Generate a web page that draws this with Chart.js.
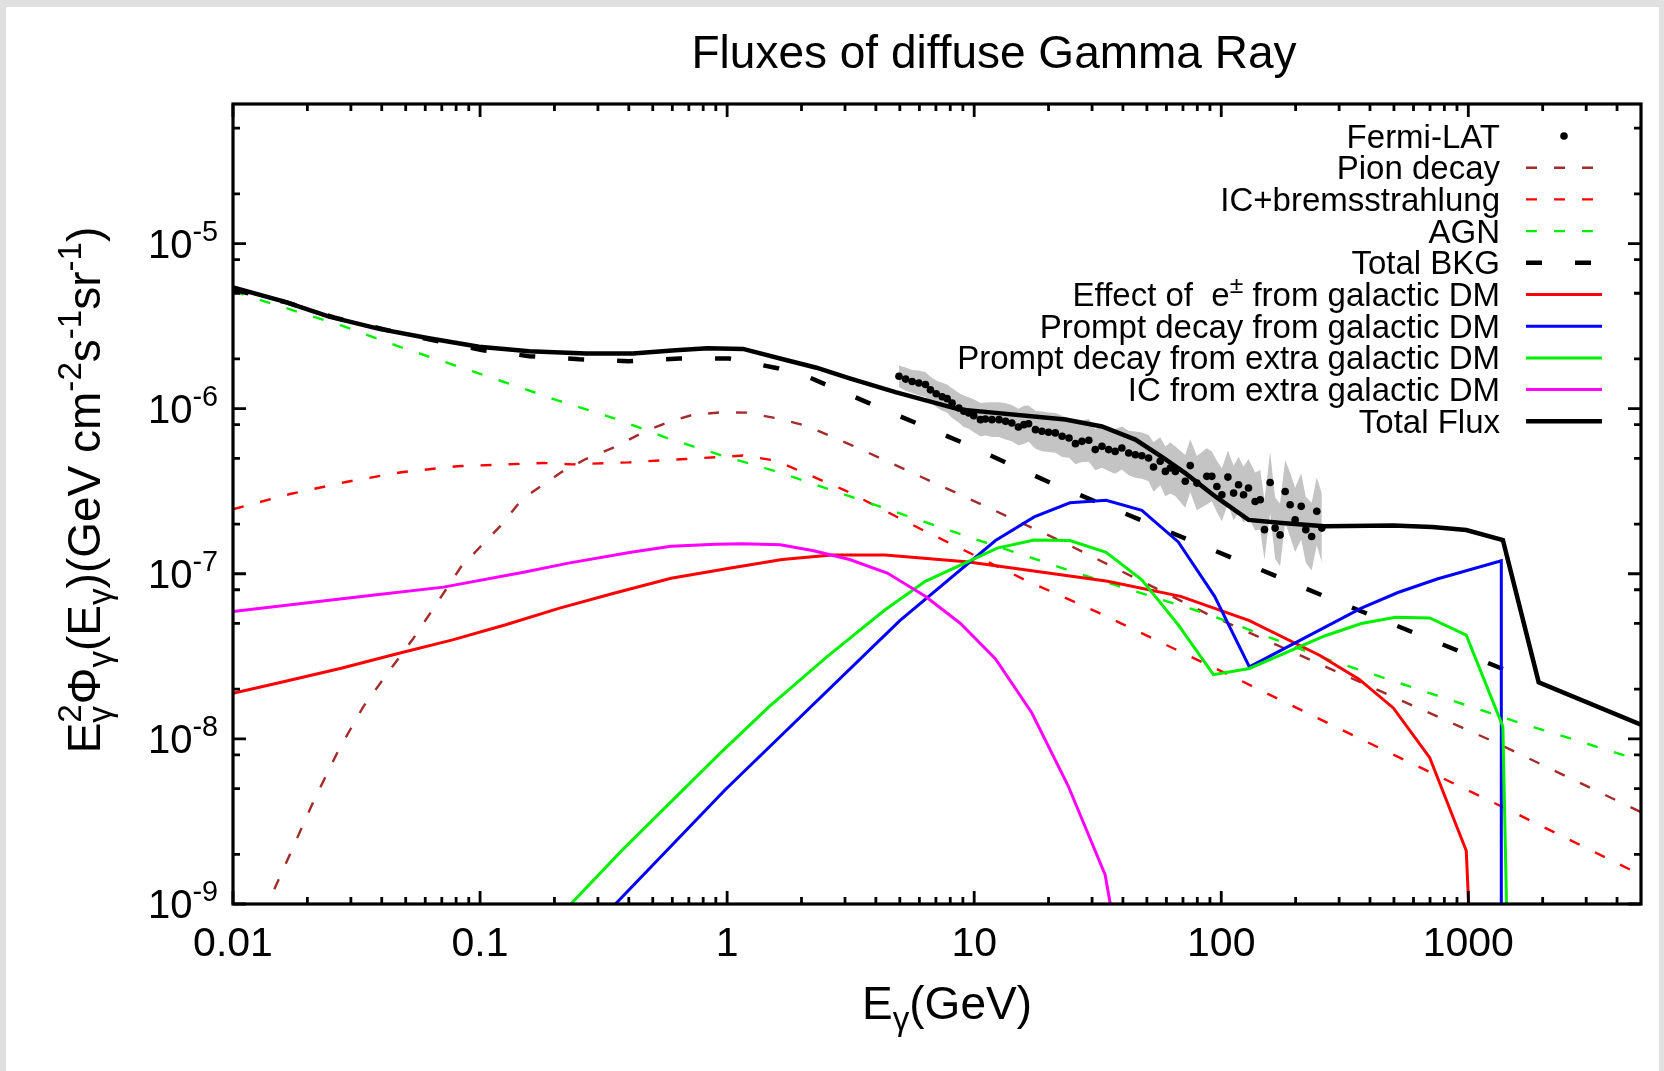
<!DOCTYPE html>
<html>
<head>
<meta charset="utf-8">
<style>
  html, body { margin: 0; padding: 0; background: #ffffff; }
  canvas { display: block; }
</style>
<script src="https://cdn.jsdelivr.net/npm/chart.js@4.4.1/dist/chart.umd.min.js"></script>
</head>
<body>
<canvas id="flux" width="1664" height="1071"></canvas>
<script>
// ---- Energies in GeV, fluxes E^2 Phi in GeV cm^-2 s^-1 sr^-1 ----

// Pion decay
const pionE = [0.0135, 0.01406, 0.0173, 0.0213, 0.0268, 0.0337, 0.0432, 0.0532, 0.0683, 0.084, 0.1035, 0.121, 0.148, 0.213, 0.269, 0.351, 0.458, 0.578, 0.730, 0.953, 1.20, 1.62, 2.08, 3.2, 8.5, 22.6, 88, 1291, 5000];
const pionF = [8.5e-10, 1.06e-9, 2.12e-9, 4.27e-9, 8.6e-9, 1.57e-8, 2.62e-8, 3.98e-8, 6.95e-8, 1.11e-7, 1.53e-7, 1.95e-7, 2.83e-7, 4.12e-7, 4.97e-7, 5.85e-7, 7.2e-7, 8.3e-7, 9.2e-7, 9.5e-7, 9.46e-7, 8.7e-7, 7.9e-7, 6.0e-7, 3.08e-7, 1.57e-7, 5.7e-8, 9.5e-9, 3.6e-9];

// IC + bremsstrahlung
const icbE = [0.01, 0.017, 0.029, 0.048, 0.081, 0.18, 0.236, 0.40, 0.68, 1.16, 1.57, 3.0, 6.1, 16, 32, 110, 361, 1413, 5000];
const icbF = [2.46e-7, 3.04e-7, 3.61e-7, 4.12e-7, 4.48e-7, 4.69e-7, 4.6e-7, 4.73e-7, 4.96e-7, 5.2e-7, 4.85e-7, 3.2e-7, 1.86e-7, 9.2e-8, 5.8e-8, 2.4e-8, 1.01e-8, 3.8e-9, 1.5e-9];

// AGN
const agnE = [0.01, 0.0276, 0.0462, 0.0748, 0.125, 0.207, 0.352, 0.578, 0.953, 1.62, 10, 24.6, 88, 275, 1618, 5000];
const agnF = [5.13e-6, 3.18e-6, 2.40e-6, 1.88e-6, 1.45e-6, 1.12e-6, 8.7e-7, 6.6e-7, 5.2e-7, 4.12e-7, 1.63e-7, 1.04e-7, 5.7e-8, 3.0e-8, 1.25e-8, 7.4e-9];

// Total background
const bkgE = [0.01, 0.0165, 0.0258, 0.0405, 0.0634, 0.1026, 0.158, 0.252, 0.40, 0.64, 1.02, 1.62, 2.08, 3.75, 8.8, 20.4, 75, 262, 1479];
const bkgF = [5.25e-6, 4.40e-6, 3.56e-6, 3.03e-6, 2.61e-6, 2.26e-6, 2.08e-6, 1.99e-6, 1.94e-6, 2.01e-6, 2.01e-6, 1.75e-6, 1.58e-6, 1.08e-6, 6.3e-7, 3.55e-7, 1.59e-7, 7.3e-8, 2.54e-8];

// Effect of e+- from galactic DM
const epmE = [0.01, 0.016, 0.0274, 0.047, 0.0774, 0.127, 0.210, 0.345, 0.593, 1.02, 1.67, 2.65, 4.36, 9.5, 34.7, 68.5, 130, 251, 361, 497, 698, 981, 1010];
const epmF = [1.89e-8, 2.22e-8, 2.68e-8, 3.30e-8, 3.98e-8, 4.91e-8, 6.19e-8, 7.6e-8, 9.4e-8, 1.08e-7, 1.22e-7, 1.30e-7, 1.30e-7, 1.18e-7, 9.0e-8, 7.3e-8, 5.2e-8, 3.2e-8, 2.3e-8, 1.54e-8, 7.7e-9, 2.1e-9, 8e-10];

// Prompt decay from galactic DM
const galE = [0.353, 0.98, 5.0, 12.2, 17.5, 24.4, 34.2, 47.7, 67, 94, 130, 369, 519, 748, 1360, 1360];
const galF = [1.0e-9, 4.9e-9, 5.2e-8, 1.59e-7, 2.21e-7, 2.69e-7, 2.79e-7, 2.42e-7, 1.56e-7, 7.3e-8, 2.73e-8, 6.2e-8, 7.7e-8, 9.3e-8, 1.2e-7, 5e-10];

// Prompt decay from extra galactic DM
const exgE = [0.233, 0.376, 0.938, 1.48, 2.54, 4.36, 6.34, 12.4, 17.5, 24.4, 34.2, 47.7, 67, 93, 130, 262, 369, 508, 698, 981, 1380, 1432];
const exgF = [1.0e-9, 2.12e-9, 8.2e-9, 1.57e-8, 3.15e-8, 6.05e-8, 9.0e-8, 1.43e-7, 1.6e-7, 1.59e-7, 1.35e-7, 9.2e-8, 4.9e-8, 2.45e-8, 2.67e-8, 4.2e-8, 5.0e-8, 5.46e-8, 5.4e-8, 4.25e-8, 1.19e-8, 8e-10];

// IC from extra galactic DM
const icxE = [0.01, 0.0222, 0.0381, 0.0711, 0.150, 0.228, 0.408, 0.593, 0.899, 1.15, 1.64, 2.24, 3.13, 4.45, 6.34, 8.8, 12.2, 17.1, 24.0, 33.9, 36.5];
const icxF = [5.91e-8, 6.8e-8, 7.46e-8, 8.3e-8, 1.02e-7, 1.16e-7, 1.35e-7, 1.47e-7, 1.51e-7, 1.52e-7, 1.50e-7, 1.38e-7, 1.22e-7, 1.01e-7, 7.3e-8, 5.0e-8, 3.05e-8, 1.44e-8, 5.2e-9, 1.5e-9, 8e-10];

// Total flux
const totE = [0.01, 0.016, 0.0245, 0.039, 0.062, 0.099, 0.158, 0.269, 0.415, 0.618, 0.834, 1.16, 1.73, 2.3, 3.11, 4.8, 8.67, 23.4, 32.9, 44.9, 57.5, 71.5, 94.6, 129, 176, 262, 497, 714, 981, 1380, 1927, 5000];
const totF = [5.42e-6, 4.46e-6, 3.61e-6, 3.04e-6, 2.67e-6, 2.37e-6, 2.23e-6, 2.16e-6, 2.16e-6, 2.26e-6, 2.32e-6, 2.30e-6, 1.97e-6, 1.77e-6, 1.53e-6, 1.26e-6, 9.9e-7, 8.6e-7, 7.8e-7, 6.5e-7, 5.1e-7, 4.07e-7, 2.94e-7, 2.12e-7, 2.03e-7, 1.94e-7, 1.96e-7, 1.92e-7, 1.84e-7, 1.6e-7, 2.2e-8, 1.22e-8];

// Fermi-LAT measurements and their uncertainty (half width, in dex)
const fermiE = [4.96, 5.28, 5.61, 5.97, 6.35, 6.65, 7.02, 7.42, 7.77, 8.14, 8.67, 9.08, 9.51, 9.96, 10.6, 11.1, 11.8, 12.6, 13.4, 14.2, 15.1, 15.9, 16.6, 17.7, 18.8, 20.0, 21.3, 22.7, 24.2, 25.7, 27.3, 29.1, 30.9, 32.9, 35.0, 37.2, 39.6, 42.2, 44.9, 47.7, 50.8, 53.2, 56.6, 59.4, 62.2, 65.2, 71.5, 74.9, 79.7, 87.4, 91.6, 96.0, 100.6, 106.4, 112.2, 117.5, 123.1, 128.9, 137.1, 143.8, 149.6, 157.7, 165.2, 173.0, 181.4, 190.0, 199.1, 210.7, 219.9, 232.2, 243.6, 255.3];
const fermiF = [1.57e-6, 1.51e-6, 1.46e-6, 1.43e-6, 1.40e-6, 1.30e-6, 1.23e-6, 1.18e-6, 1.15e-6, 1.08e-6, 1.01e-6, 9.64e-7, 9.41e-7, 9.07e-7, 8.58e-7, 8.66e-7, 8.58e-7, 8.58e-7, 8.38e-7, 8.18e-7, 7.74e-7, 8.0e-7, 8.11e-7, 7.46e-7, 7.29e-7, 7.19e-7, 7.13e-7, 6.80e-7, 6.64e-7, 6.14e-7, 6.34e-7, 6.43e-7, 5.65e-7, 5.91e-7, 5.65e-7, 5.51e-7, 5.78e-7, 5.39e-7, 5.26e-7, 5.19e-7, 5.02e-7, 4.43e-7, 4.80e-7, 4.17e-7, 4.37e-7, 4.17e-7, 3.63e-7, 4.52e-7, 3.54e-7, 3.89e-7, 3.89e-7, 3.38e-7, 3.01e-7, 3.85e-7, 3.08e-7, 3.46e-7, 3.01e-7, 3.31e-7, 2.74e-7, 2.81e-7, 1.85e-7, 3.57e-7, 1.89e-7, 1.72e-7, 3.15e-7, 2.62e-7, 2.12e-7, 2.56e-7, 1.85e-7, 1.68e-7, 2.39e-7, 1.89e-7];
const fermiErr = [0.065, 0.07, 0.07, 0.075, 0.075, 0.08, 0.08, 0.085, 0.085, 0.09, 0.09, 0.095, 0.095, 0.1, 0.1, 0.1, 0.105, 0.105, 0.11, 0.11, 0.11, 0.115, 0.11, 0.115, 0.12, 0.12, 0.12, 0.125, 0.12, 0.125, 0.125, 0.13, 0.125, 0.13, 0.13, 0.135, 0.13, 0.135, 0.14, 0.14, 0.14, 0.15, 0.145, 0.15, 0.155, 0.15, 0.16, 0.16, 0.165, 0.17, 0.15, 0.155, 0.16, 0.16, 0.165, 0.17, 0.17, 0.175, 0.175, 0.18, 0.18, 0.185, 0.185, 0.19, 0.19, 0.195, 0.195, 0.2, 0.2, 0.205, 0.205, 0.21];

// ---- Axes ----
const xRange = [0.01, 5000];
const yRange = [1e-9, 7e-5];
const xTickValues = [0.01, 0.1, 1, 10, 100, 1000];
const xTickLabels = ['0.01', '0.1', '1', '10', '100', '1000'];
const xMinorSteps = [2, 3, 4, 5, 6, 7, 8, 9];
const yTickExponents = [-9, -8, -7, -6, -5];
const yMinorSteps = [2, 5, 8];

const titleText = 'Fluxes of diffuse Gamma Ray';

// ---- Chart ----
const FONT = "'Liberation Sans', Arial, Helvetica, sans-serif";
const font = px => px + 'px ' + FONT;
const pts = (E, F) => E.map((e, i) => ({ x: e, y: F[i] }));

const fermiHi = fermiF.map((v, i) => v * Math.pow(10, fermiErr[i]));
const fermiLo = fermiF.map((v, i) => v / Math.pow(10, fermiErr[i]));

const lineBase = { pointRadius: 0, tension: 0, fill: false, clip: 0, borderCapStyle: 'butt', borderJoinStyle: 'miter' };
const shortDash = [11, 17];
const GREEN = '#00f000';

const datasets = [
  { ...lineBase, label: 'Total Flux', data: pts(totE, totF), borderColor: '#000000', borderWidth: 4.5, order: 0 },
  { ...lineBase, label: 'IC from extra galactic DM', data: pts(icxE, icxF), borderColor: '#ff00ff', borderWidth: 3, order: 1 },
  { ...lineBase, label: 'Prompt decay from extra galactic DM', data: pts(exgE, exgF), borderColor: GREEN, borderWidth: 3, order: 2 },
  { ...lineBase, label: 'Prompt decay from galactic DM', data: pts(galE, galF), borderColor: '#0000ff', borderWidth: 3, order: 3 },
  { ...lineBase, label: 'Effect of e\u00b1 from galactic DM', data: pts(epmE, epmF), borderColor: '#ff0000', borderWidth: 3, order: 4 },
  { ...lineBase, label: 'Total BKG', data: pts(bkgE, bkgF), borderColor: '#000000', borderWidth: 4.5, borderDash: [16, 33], order: 5 },
  { ...lineBase, label: 'AGN', data: pts(agnE, agnF), borderColor: GREEN, borderWidth: 2.4, borderDash: shortDash, order: 6 },
  { ...lineBase, label: 'IC+bremsstrahlung', data: pts(icbE, icbF), borderColor: '#ff0000', borderWidth: 2.4, borderDash: shortDash, order: 7 },
  { ...lineBase, label: 'Pion decay', data: pts(pionE, pionF), borderColor: '#a52a2a', borderWidth: 2.4, borderDash: shortDash, order: 8 },
  { label: 'Fermi-LAT', data: pts(fermiE, fermiF), showLine: false, pointRadius: 3.8, pointBackgroundColor: '#000000', pointBorderWidth: 0, borderColor: '#000000', order: 9, clip: 0 },
  { label: 'Fermi-LAT band', data: pts(fermiE, fermiHi), pointRadius: 0, borderWidth: 0, borderColor: 'rgba(0,0,0,0)', backgroundColor: '#c4c4c4', fill: '+1', tension: 0, order: 10, clip: 0 },
  { label: 'Fermi-LAT band low', data: pts(fermiE, fermiLo), pointRadius: 0, borderWidth: 0, borderColor: 'rgba(0,0,0,0)', fill: false, tension: 0, order: 11, clip: 0 }
];

// legend rows, top to bottom, pointing at dataset labels
const legendOrder = ['Fermi-LAT', 'Pion decay', 'IC+bremsstrahlung', 'AGN', 'Total BKG',
  'Effect of e\u00b1 from galactic DM', 'Prompt decay from galactic DM',
  'Prompt decay from extra galactic DM', 'IC from extra galactic DM', 'Total Flux'];

// draws a run of text pieces (with sub/superscripts) starting, ending or centred at x
function drawRich(ctx, parts, x, y, base, align) {
  const widths = parts.map(p => {
    ctx.font = font(base * (p.s || 1));
    return p.adv === 0 ? 0 : ctx.measureText(p.t).width;
  });
  const total = widths.reduce((a, b) => a + b, 0);
  let cx = align === 'center' ? x - total / 2 : align === 'right' ? x - total : x;
  ctx.textAlign = 'left';
  ctx.textBaseline = 'alphabetic';
  parts.forEach((p, i) => {
    ctx.font = font(base * (p.s || 1));
    ctx.fillText(p.t, cx, y + (p.dy || 0));
    cx += widths[i];
  });
}

const decorations = {
  id: 'decorations',
  beforeDraw(chart) {
    const { ctx, width, height } = chart;
    ctx.save();
    ctx.fillStyle = '#ffffff';
    ctx.fillRect(0, 0, width, height);
    ctx.fillStyle = '#e0e0e0';
    ctx.fillRect(0, 0, width, 7);
    ctx.fillRect(0, 0, 6, height);
    ctx.fillRect(width - 5, 0, 5, height);
    ctx.restore();
  },
  afterDatasetsDraw(chart) {
    const { ctx, chartArea: a } = chart;
    const xs = chart.scales.x, ys = chart.scales.y;
    ctx.save();
    ctx.fillStyle = '#000000';
    ctx.strokeStyle = '#000000';
    ctx.lineCap = 'butt';

    // ticks on all four sides, pointing inwards
    ctx.lineWidth = 2.8;
    ctx.beginPath();
    const majorLen = 13, minorLen = 7;
    xTickValues.forEach(v => {
      const p = xs.getPixelForValue(v);
      ctx.moveTo(p, a.bottom); ctx.lineTo(p, a.bottom - majorLen);
      ctx.moveTo(p, a.top); ctx.lineTo(p, a.top + majorLen);
      xMinorSteps.forEach(m => {
        const val = v * m;
        if (val >= xRange[1]) return;
        const q = xs.getPixelForValue(val);
        ctx.moveTo(q, a.bottom); ctx.lineTo(q, a.bottom - minorLen);
        ctx.moveTo(q, a.top); ctx.lineTo(q, a.top + minorLen);
      });
    });
    yTickExponents.forEach(e => {
      const v = Math.pow(10, e);
      const p = ys.getPixelForValue(v);
      ctx.moveTo(a.left, p); ctx.lineTo(a.left + majorLen, p);
      ctx.moveTo(a.right, p); ctx.lineTo(a.right - majorLen, p);
      yMinorSteps.forEach(m => {
        const val = v * m;
        if (val >= yRange[1]) return;
        const q = ys.getPixelForValue(val);
        ctx.moveTo(a.left, q); ctx.lineTo(a.left + minorLen, q);
        ctx.moveTo(a.right, q); ctx.lineTo(a.right - minorLen, q);
      });
    });
    ctx.stroke();

    // plot frame
    ctx.lineWidth = 3.2;
    ctx.strokeRect(a.left, a.top, a.right - a.left, a.bottom - a.top);

    // x tick labels
    ctx.font = font(41);
    ctx.textAlign = 'center';
    ctx.textBaseline = 'alphabetic';
    xTickValues.forEach((v, i) => {
      ctx.fillText(xTickLabels[i], xs.getPixelForValue(v), 956);
    });

    // y tick labels: 10 with a raised exponent
    yTickExponents.forEach(e => {
      const p = ys.getPixelForValue(Math.pow(10, e));
      drawRich(ctx, [{ t: '10' }, { t: '-' + Math.abs(e), s: 0.72, dy: -17 }], 218, p + 14, 40, 'right');
    });

    // title
    ctx.font = font(46);
    ctx.textAlign = 'center';
    ctx.fillText(titleText, 994, 68);

    // x axis title
    drawRich(ctx, [{ t: 'E' }, { t: '\u03b3', s: 0.72, dy: 11 }, { t: '(GeV)' }], 947, 1019, 46, 'center');

    // y axis title, rotated
    ctx.save();
    ctx.translate(100, 490);
    ctx.rotate(-Math.PI / 2);
    drawRich(ctx, [
      { t: 'E' }, { t: '\u03b3', s: 0.72, dy: 11, adv: 0 }, { t: '2', s: 0.72, dy: -19 },
      { t: '\u03a6' }, { t: '\u03b3', s: 0.72, dy: 11 },
      { t: '(E' }, { t: '\u03b3', s: 0.72, dy: 11 },
      { t: ')(GeV cm' }, { t: '-2', s: 0.72, dy: -19 },
      { t: 's' }, { t: '-1', s: 0.72, dy: -19 },
      { t: 'sr' }, { t: '-1', s: 0.72, dy: -19 },
      { t: ')' }
    ], 0, 0, 46, 'center');
    ctx.restore();

    // legend
    const textRight = 1500, sx0 = 1526, sx1 = 1602, row0 = 136, rowH = 31.7;
    legendOrder.forEach((name, i) => {
      const ds = chart.data.datasets.find(d => d.label === name);
      const y = row0 + i * rowH;
      ctx.fillStyle = '#000000';
      if (name.indexOf('\u00b1') >= 0) {
        drawRich(ctx, [{ t: 'Effect of  e' }, { t: '\u00b1', s: 0.75, dy: -13 }, { t: ' from galactic DM' }], textRight, y + 11.5, 33, 'right');
      } else {
        ctx.font = font(33);
        ctx.textAlign = 'right';
        ctx.fillText(name, textRight, y + 11.5);
      }
      if (ds.showLine === false) {
        ctx.beginPath();
        ctx.arc((sx0 + sx1) / 2, y, ds.pointRadius, 0, Math.PI * 2);
        ctx.fillStyle = ds.pointBackgroundColor;
        ctx.fill();
      } else {
        ctx.beginPath();
        ctx.setLineDash(ds.borderDash || []);
        ctx.lineDashOffset = 0;
        ctx.strokeStyle = ds.borderColor;
        ctx.lineWidth = ds.borderWidth;
        ctx.moveTo(sx0, y);
        ctx.lineTo(sx1, y);
        ctx.stroke();
        ctx.setLineDash([]);
      }
    });
    ctx.restore();
  }
};

new Chart(document.getElementById('flux').getContext('2d'), {
  type: 'line',
  data: { datasets },
  options: {
    responsive: false,
    animation: false,
    devicePixelRatio: 1,
    layout: { padding: { left: 233, top: 104, right: 23, bottom: 167 } },
    scales: {
      x: { type: 'logarithmic', min: xRange[0], max: xRange[1], display: false },
      y: { type: 'logarithmic', min: yRange[0], max: yRange[1], display: false }
    },
    plugins: {
      legend: { display: false },
      tooltip: { enabled: false },
      title: { display: false }
    }
  },
  plugins: [decorations]
});
</script>
</body>
</html>
